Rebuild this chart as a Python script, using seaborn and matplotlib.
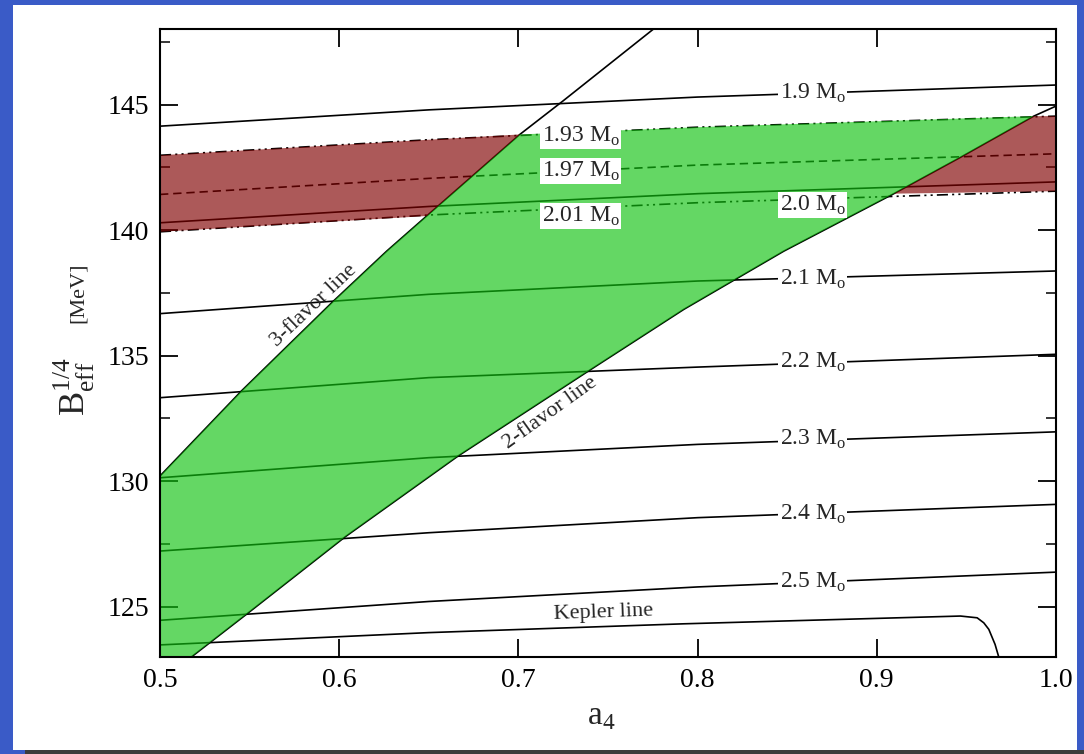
import numpy as np
import pandas as pd
import seaborn as sns
import matplotlib.pyplot as plt
from matplotlib.patches import Rectangle
from matplotlib.ticker import MultipleLocator

# mass contours B_eff^1/4 vs a4, read at these a4 values
mass_x = [0.5, 0.65, 0.8, 1.0]
m190 = [144.14, 144.79, 145.30, 145.78]
m193 = [142.98, 143.60, 144.10, 144.54]
m197 = [141.42, 142.06, 142.59, 143.04]
m200 = [140.29, 140.94, 141.45, 141.92]
m201 = [139.93, 140.60, 141.09, 141.55]
m210 = [136.67, 137.44, 137.97, 138.37]
m220 = [133.32, 134.12, 134.54, 135.05]
m230 = [130.13, 130.93, 131.46, 131.96]
m240 = [127.21, 127.94, 128.54, 129.07]
m250 = [124.45, 125.20, 125.78, 126.37]

kepler_x = [0.5, 0.65, 0.792, 0.9467, 0.956, 0.9597, 0.9625, 0.966, 0.968]
kepler_y = [123.47, 123.96, 124.31, 124.62, 124.55, 124.35, 124.09, 123.49, 123.0]

flav3_x = [0.5, 0.5456, 0.5965, 0.6265, 0.6488, 0.7008, 0.7248, 0.7752]
flav3_y = [130.2, 133.6, 137.15, 139.16, 140.56, 143.81, 145.14, 148.0]

flav2_x = [0.5177, 0.5493, 0.6032, 0.6664, 0.739, 0.7923, 0.8481, 0.9095, 0.9467, 0.9876, 1.0]
flav2_y = [123.0, 124.75, 127.77, 131.0, 134.38, 136.84, 139.16, 141.45, 142.9, 144.54, 144.94]

# contour labels
labels_right = ["1.9", "2.0", "2.1", "2.2", "2.3", "2.4", "2.5"]
labels_right_y = [145.45, 141.0, 138.05, 134.71, 131.66, 128.67, 125.95]
labels_mid = ["1.93", "1.97", "2.01"]
labels_mid_y = [143.75, 142.35, 140.56]

W, H = 1084, 754
sns.set_theme(style="ticks")
plt.rcParams['font.family'] = ['Liberation Serif', 'DejaVu Serif']
plt.rcParams['mathtext.fontset'] = 'custom'
plt.rcParams['mathtext.rm'] = 'Liberation Serif'
plt.rcParams['lines.scale_dashes'] = False

fig = plt.figure(figsize=(W / 100, H / 100), dpi=100)
fig.patch.set_facecolor('#3a5bc7')
fig.add_artist(Rectangle((13 / W, 1 - 750 / H), (1077 - 13) / W, 745 / H,
                         transform=fig.transFigure, facecolor='white', edgecolor='none', zorder=0))
fig.add_artist(Rectangle((25 / W, 0), 1, 4 / H, transform=fig.transFigure,
                         facecolor='#3c3c3c', edgecolor='none', zorder=0))

ax = fig.add_axes([160 / W, (H - 656.7) / H, 896 / W, 627.4 / H])
ax.set_facecolor('white')

dashdotdot = (0, (8, 3, 1.5, 3, 1.5, 3))
dashed = (0, (6, 3.5))
lines = [(m190, '-'), (m193, dashdotdot), (m197, dashed), (m200, '-'), (m201, dashdotdot),
         (m210, '-'), (m220, '-'), (m230, '-'), (m240, '-'), (m250, '-')]
for ys, ls in lines:
    sns.lineplot(x=mass_x, y=ys, ax=ax, color='black', lw=1.2, linestyle=ls,
                 estimator=None, sort=False, zorder=2)
sns.lineplot(x=kepler_x, y=kepler_y, ax=ax, color='black', lw=1.2, estimator=None, sort=False, zorder=2)
sns.lineplot(x=flav3_x, y=flav3_y, ax=ax, color='black', lw=1.2, estimator=None, sort=False, zorder=2)
sns.lineplot(x=flav2_x, y=flav2_y, ax=ax, color='black', lw=1.2, estimator=None, sort=False, zorder=2)

# polygons built from the read boundary points
mx = np.array(mass_x); f3x = np.array(flav3_x); f3y = np.array(flav3_y)
f2x = np.array(flav2_x); f2y = np.array(flav2_y)
a193 = np.array(m193); a201 = np.array(m201)
x3top, x3bot = 0.7008, 0.6488   # 3-flavor meets 1.93 / 2.01
x2top, x2bot = 0.9876, 0.9095   # 2-flavor meets 1.93 / 2.01

# green: between 2-flavor and 3-flavor, below 1.93
m3 = f3x <= x3top
mt = (mx > x3top) & (mx < x2top)
m2 = f2x <= x2top
gx = np.concatenate([[0.5], f3x[m3], mx[mt], f2x[m2][::-1]])
gy = np.concatenate([[123.0], f3y[m3], a193[mt], f2y[m2][::-1]])

# red band pieces outside the green
l_top = mx < x3top
l_seg = (f3x >= x3bot) & (f3x <= x3top)
l_bot = mx < x3bot
rlx = np.concatenate([mx[l_top], f3x[l_seg][::-1], mx[l_bot][::-1]])
rly = np.concatenate([a193[l_top], f3y[l_seg][::-1], a201[l_bot][::-1]])
r_seg = (f2x >= x2bot) & (f2x <= x2top)
rrx = np.concatenate([f2x[r_seg], [1.0, 1.0]])
rry = np.concatenate([f2y[r_seg], [a193[-1], a201[-1]]])

ax.fill(gx, gy, color='#11c211', alpha=0.65, lw=0, zorder=3)
ax.fill(rlx, rly, color='#800000', alpha=0.65, lw=0, zorder=3)
ax.fill(rrx, rry, color='#800000', alpha=0.65, lw=0, zorder=3)

box = dict(facecolor='white', edgecolor='none', pad=1.0)
for t, yv in zip(labels_right, labels_right_y):
    ax.text(0.8643, yv, t + r" M$_\mathregular{o}$", fontsize=17, ha='center', va='center',
            bbox=box, zorder=5)
for t, yv in zip(labels_mid, labels_mid_y):
    ax.text(0.7349, yv, t + r" M$_\mathregular{o}$", fontsize=17, ha='center', va='center',
            bbox=box, zorder=5)
ax.text(0.7477, 124.74, "Kepler line", fontsize=16, ha='center', va='center', rotation=2, zorder=5)
ax.text(0.5859, 136.97, "3-flavor line", fontsize=16, ha='center', va='center', rotation=43.5,
        rotation_mode='anchor', zorder=5)
ax.text(0.7176, 132.72, "2-flavor line", fontsize=16, ha='center', va='center', rotation=35.7,
        rotation_mode='anchor', zorder=5)

ax.set_xlim(0.5, 1.0)
ax.set_ylim(123, 148)
ax.set_xticks([0.5, 0.6, 0.7, 0.8, 0.9, 1.0])
ax.set_xticklabels(["0.5", "0.6", "0.7", "0.8", "0.9", "1.0"])
ax.set_yticks([125, 130, 135, 140, 145])
ax.yaxis.set_minor_locator(MultipleLocator(2.5))
ax.tick_params(which='major', direction='in', top=True, right=True, length=13, width=1.3,
               labelsize=20, pad=8, color='black', labelcolor='black')
ax.tick_params(which='minor', direction='in', top=False, right=True, length=7, width=1.3)
for s in ax.spines.values():
    s.set_linewidth(1.5)
    s.set_color('black')
    s.set_zorder(6)

ax.text(0.492, -0.095, r"a$_\mathregular{4}$", transform=ax.transAxes, fontsize=24,
        ha='center', va='center')
ax.text(-0.096, 0.43, r"B$_\mathregular{eff}^\mathregular{1/4}$", transform=ax.transAxes,
        fontsize=26, rotation=90, ha='center', va='center')
ax.text(-0.0915, 0.58, "[MeV]", transform=ax.transAxes, fontsize=16, rotation=90,
        ha='center', va='center')
ax.set_xlabel("")
ax.set_ylabel("")

fig.savefig("out.png", dpi=100)
